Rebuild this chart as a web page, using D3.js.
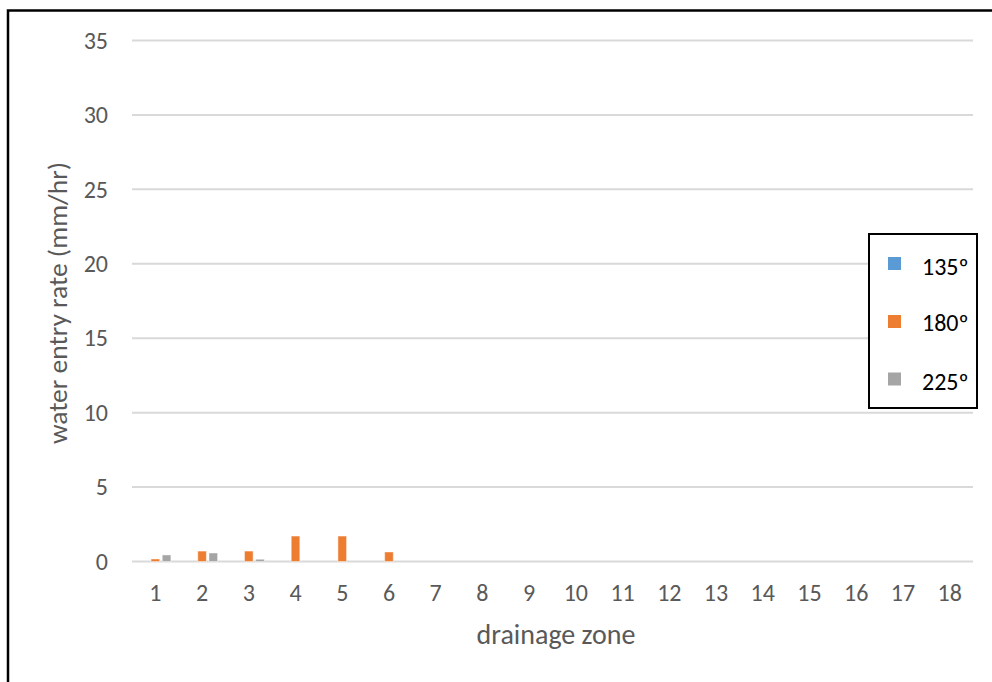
<!DOCTYPE html>
<html>
<head>
<meta charset="utf-8">
<script src="https://cdn.jsdelivr.net/npm/d3@7"></script>
<style>
  html, body { margin: 0; padding: 0; background: #fff; }
  svg { display: block; }
  text { font-family: Carlito, Calibri, Lato, "Open Sans", sans-serif; }
</style>
</head>
<body>
<svg id="chart" width="992" height="682"></svg>
<script>
// Drainage zones along the x axis
const zones = ["1","2","3","4","5","6","7","8","9","10","11","12","13","14","15","16","17","18"];
// Water entry rate (mm/hr) for each wind direction
const series135 = [0,0,0,0,0,0,0,0,0,0,0,0,0,0,0,0,0,0];
const series180 = [0.17,0.7,0.7,1.71,1.71,0.64,0,0,0,0,0,0,0,0,0,0,0,0];
const series225 = [0.44,0.57,0.15,0,0,0,0,0,0,0,0,0,0,0,0,0,0,0];
const seriesNames = ["135º","180º","225º"];
const seriesColors = ["#5b9bd5","#ed7d31","#a5a5a5"];
const yTicks = [0,5,10,15,20,25,30,35];

const svg = d3.select("#chart");

// outer frame
svg.append("rect")
  .attr("x", 8).attr("y", 10.5)
  .attr("width", 1000).attr("height", 700)
  .attr("fill", "none").attr("stroke", "#000").attr("stroke-width", 2.5);

const plot = {left: 132, right: 973, top: 40.5, bottom: 561.5};

const x = d3.scaleBand().domain(zones).range([plot.left, plot.right]);
const y = d3.scaleLinear().domain([0, 35]).range([plot.bottom, plot.top]);

// horizontal gridlines
svg.append("g").selectAll("line").data(yTicks).join("line")
  .attr("x1", plot.left).attr("x2", plot.right)
  .attr("y1", d => y(d)).attr("y2", d => y(d))
  .attr("stroke", "#d9d9d9").attr("stroke-width", 2);

// y axis labels
const yAxis = svg.append("g")
  .attr("transform", `translate(${plot.left},0)`)
  .call(d3.axisLeft(y).tickValues(yTicks).tickSize(0).tickPadding(24));
yAxis.select(".domain").remove();
yAxis.selectAll("text")
  .attr("fill", "#595959").style("font-size", "24px")
  .style("font-family", "Carlito, Calibri, Lato, sans-serif");

// x axis labels
const xAxis = svg.append("g")
  .attr("transform", `translate(0,${plot.bottom})`)
  .call(d3.axisBottom(x).tickSize(0).tickPadding(22));
xAxis.select(".domain").remove();
xAxis.selectAll("text")
  .attr("fill", "#595959").style("font-size", "24px")
  .style("font-family", "Carlito, Calibri, Lato, sans-serif");

// grouped bars
const seriesData = [series135, series180, series225];
const barW = 8.6, barStep = 11.2;
seriesData.forEach((vals, si) => {
  svg.append("g").selectAll("rect").data(vals.map((v, i) => ({zone: zones[i], v})))
    .join("rect")
    .filter(d => d.v > 0)
    .attr("x", d => x(d.zone) + x.bandwidth() / 2 + (si - 1) * barStep - barW / 2)
    .attr("y", d => y(d.v))
    .attr("width", barW)
    .attr("height", d => y(0) - y(d.v))
    .attr("fill", seriesColors[si])
    .attr("stroke", "#ffffff").attr("stroke-opacity", 0.45).attr("stroke-width", 1);
});

// axis titles
svg.append("text")
  .attr("x", 556).attr("y", 644)
  .attr("text-anchor", "middle").attr("fill", "#595959")
  .style("font-size", "28px").text("drainage zone");

svg.append("text")
  .attr("transform", `translate(67,${(plot.top + plot.bottom) / 2 + 2}) rotate(-90)`)
  .attr("text-anchor", "middle").attr("fill", "#595959")
  .style("font-size", "27.5px").text("water entry rate (mm/hr)");

// legend
const lg = svg.append("g");
lg.append("rect")
  .attr("x", 869).attr("y", 234).attr("width", 108).attr("height", 174)
  .attr("fill", "#fff").attr("stroke", "#000").attr("stroke-width", 2);
const legY = [263.5, 321.5, 379];
const legBase = [275, 331, 390];
seriesNames.forEach((name, i) => {
  lg.append("rect")
    .attr("x", 888).attr("y", legY[i] - 6.5).attr("width", 13).attr("height", 13)
    .attr("fill", seriesColors[i]);
  lg.append("text")
    .attr("x", 922).attr("y", legBase[i])
    .attr("fill", "#000").style("font-size", "24px").text(name);
});
</script>
</body>
</html>
